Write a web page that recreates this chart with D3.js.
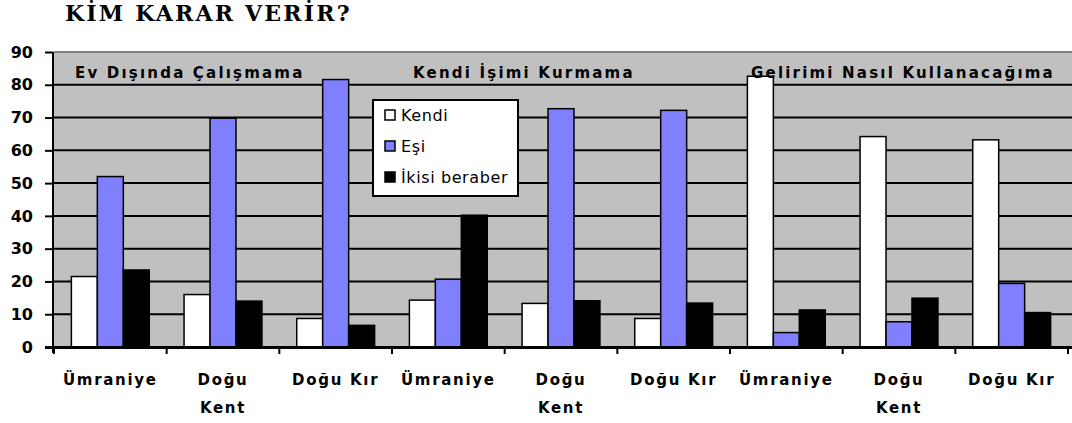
<!DOCTYPE html>
<html>
<head>
<meta charset="utf-8">
<script src="https://cdn.jsdelivr.net/npm/d3@7"></script>
<style>
  body { margin: 0; background: #fff; }
  svg { display: block; }
</style>
</head>
<body>
<div id="chart"></div>
<script>
// chart data
const title = 'KİM KARAR VERİR?';
const groupNames = ['Ev Dışında Çalışmama', 'Kendi İşimi Kurmama', 'Gelirimi Nasıl Kullanacağıma'];
const categoryLabels = [
  ['Ümraniye'], ['Doğu', 'Kent'], ['Doğu Kır'],
  ['Ümraniye'], ['Doğu', 'Kent'], ['Doğu Kır'],
  ['Ümraniye'], ['Doğu', 'Kent'], ['Doğu Kır']
];
const seriesNames = ['Kendi', 'Eşi', 'İkisi beraber'];
const kendi = [21.5, 16, 8.7, 14.3, 13.3, 8.7, 82.6, 64.2, 63.2];
const esi = [52, 69.8, 81.6, 20.7, 72.7, 72.2, 4.4, 7.7, 19.4];
const ikisi = [23.5, 14, 6.6, 40.2, 14.1, 13.4, 11.3, 14.9, 10.5];
const yTicks = [0, 10, 20, 30, 40, 50, 60, 70, 80, 90];

const colors = ['#ffffff', '#8080ff', '#000000'];
const seriesValues = [kendi, esi, ikisi];

function draw () {
  const svgWidth = 1072;
  const svgHeight = 423;
  const plot = { left: 54, right: 1068, top: 52, bottom: 347 };

  const svg = d3.select('#chart')
    .append('svg')
    .attr('width', svgWidth)
    .attr('height', svgHeight);

  const x0 = d3.scaleBand()
    .domain(d3.range(categoryLabels.length))
    .range([plot.left, plot.right])
    .padding(0);
  const x1 = d3.scaleBand()
    .domain(d3.range(seriesNames.length))
    .range([0, x0.bandwidth()])
    .paddingInner(0)
    .paddingOuter(0.67);
  const y = d3.scaleLinear().domain([0, 90]).range([plot.bottom, plot.top]);

  // title
  svg.append('text')
    .attr('x', 65)
    .attr('y', 21)
    .attr('font-family', 'DejaVu Serif')
    .attr('font-weight', 'bold')
    .attr('font-size', 22)
    .attr('letter-spacing', 2.2)
    .text(title);

  // plot background
  svg.append('rect')
    .attr('x', plot.left)
    .attr('y', plot.top)
    .attr('width', svgWidth - plot.left)
    .attr('height', plot.bottom - plot.top)
    .attr('fill', '#c0c0c0');

  // gridlines
  svg.append('g')
    .selectAll('line')
    .data(yTicks.filter(d => d > 0 && d < 90))
    .join('line')
    .attr('x1', plot.left)
    .attr('x2', svgWidth)
    .attr('y1', d => y(d))
    .attr('y2', d => y(d))
    .attr('stroke', '#000')
    .attr('stroke-width', 2);
  svg.append('line')
    .attr('x1', plot.left)
    .attr('x2', svgWidth)
    .attr('y1', y(90))
    .attr('y2', y(90))
    .attr('stroke', '#808080')
    .attr('stroke-width', 2);

  // bars
  const groups = svg.append('g')
    .selectAll('g')
    .data(categoryLabels.map((c, i) => i))
    .join('g')
    .attr('transform', i => `translate(${x0(i)},0)`);
  groups.selectAll('rect')
    .data(i => seriesValues.map((vals, s) => ({ s, v: vals[i] })))
    .join('rect')
    .attr('x', d => x1(d.s))
    .attr('y', d => y(d.v))
    .attr('width', x1.bandwidth())
    .attr('height', d => y(0) - y(d.v))
    .attr('fill', d => colors[d.s])
    .attr('stroke', '#000')
    .attr('stroke-width', 1.5);

  // group titles
  svg.append('g')
    .selectAll('text')
    .data(groupNames)
    .join('text')
    .attr('x', (d, i) => x0(i * 3) + 21)
    .attr('y', 78)
    .attr('font-family', 'DejaVu Sans')
    .attr('font-weight', 'bold')
    .attr('font-size', 15)
    .attr('letter-spacing', 2.2)
    .text(d => d);

  // y axis
  const yAxis = svg.append('g')
    .attr('transform', `translate(${plot.left - 1},0)`)
    .call(d3.axisLeft(y).tickValues(yTicks).tickSize(8).tickPadding(12));
  yAxis.select('.domain').attr('stroke-width', 2).attr('d', `M0,${plot.top}V${plot.bottom + 6}`);
  yAxis.selectAll('.tick line').attr('stroke-width', 2);
  yAxis.selectAll('.tick text')
    .attr('font-family', 'DejaVu Sans')
    .attr('font-weight', 'bold')
    .attr('font-size', 16)
    .attr('fill', '#000');

  // x axis
  const xTickPos = d3.range(categoryLabels.length + 1).map(i => plot.left + i * x0.step());
  svg.append('line')
    .attr('x1', 45)
    .attr('x2', svgWidth)
    .attr('y1', plot.bottom + 0.5)
    .attr('y2', plot.bottom + 0.5)
    .attr('stroke', '#000')
    .attr('stroke-width', 3);
  svg.append('g')
    .selectAll('line')
    .data(xTickPos)
    .join('line')
    .attr('x1', d => d)
    .attr('x2', d => d)
    .attr('y1', plot.bottom)
    .attr('y2', plot.bottom + 7)
    .attr('stroke', '#000')
    .attr('stroke-width', 2);

  const xLabels = svg.append('g')
    .selectAll('text')
    .data(categoryLabels)
    .join('text')
    .attr('x', (d, i) => x0(i) + x0.bandwidth() / 2)
    .attr('y', 385)
    .attr('text-anchor', 'middle')
    .attr('font-family', 'DejaVu Sans')
    .attr('font-weight', 'bold')
    .attr('font-size', 15)
    .attr('letter-spacing', 1.7);
  xLabels.selectAll('tspan')
    .data(d => d)
    .join('tspan')
    .attr('x', function () { return d3.select(this.parentNode).attr('x'); })
    .attr('dy', (d, i) => i === 0 ? 0 : 28)
    .text(d => d);

  // legend
  const legend = svg.append('g').attr('transform', 'translate(373,100)');
  legend.append('rect')
    .attr('width', 145)
    .attr('height', 96)
    .attr('fill', '#fff')
    .attr('stroke', '#000')
    .attr('stroke-width', 2);
  const items = legend.selectAll('g.item')
    .data(seriesNames)
    .join('g')
    .attr('class', 'item')
    .attr('transform', (d, i) => `translate(12,${10 + i * 31})`);
  items.append('rect')
    .attr('width', 10)
    .attr('height', 10)
    .attr('fill', (d, i) => colors[i])
    .attr('stroke', '#000')
    .attr('stroke-width', 1.5);
  items.append('text')
    .attr('x', 16)
    .attr('y', 11)
    .attr('font-family', 'DejaVu Sans')
    .attr('font-size', 16)
    .attr('letter-spacing', 0.6)
    .text(d => d);
}
draw();
</script>
</body>
</html>
